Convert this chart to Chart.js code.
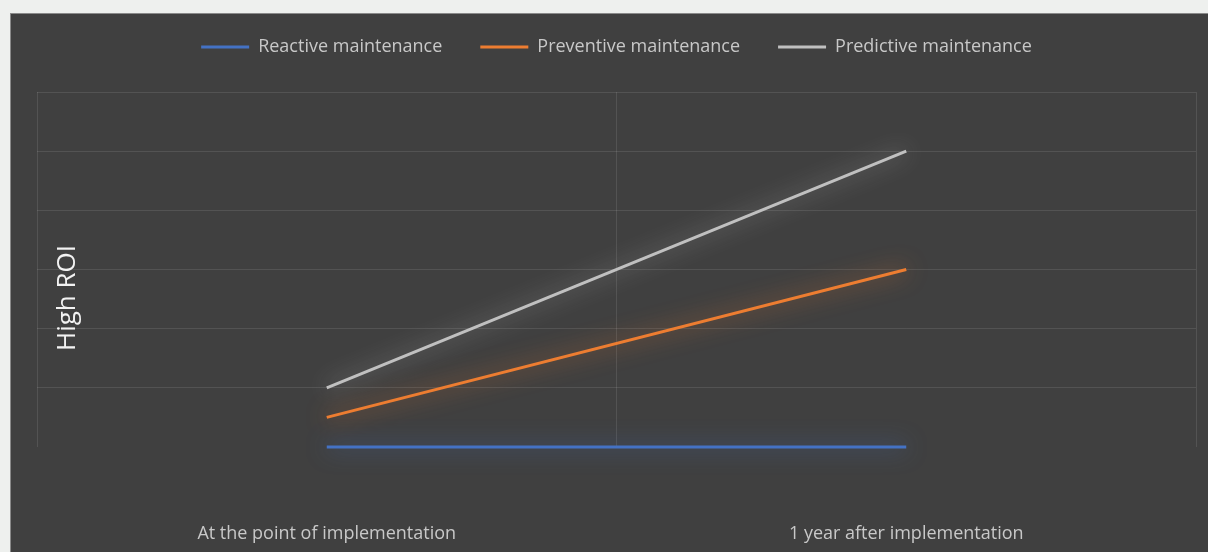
<!DOCTYPE html>
<html>
<head>
<meta charset="utf-8">
<script src="https://cdn.jsdelivr.net/npm/chart.js@4.4.1/dist/chart.umd.min.js"></script>
<style>
  html, body { margin: 0; padding: 0; background: #eef0ee; }
  #panel {
    position: absolute; left: 10px; top: 13px;
    width: 1198px; height: 539px;
    background: #404040;
    border-top: 1px solid #8a8a8a;
    border-left: 1px solid #8a8a8a;
    box-sizing: border-box;
  }
  #myChart { display: block; }
</style>
</head>
<body>
<div id="panel"><canvas id="myChart" width="1197" height="538"></canvas></div>
<script>
const categories = ['At the point of implementation', '1 year after implementation'];
const reactive = [0, 0];
const preventive = [0.5, 3];
const predictive = [1, 5];
const seriesNames = ['Reactive maintenance', 'Preventive maintenance', 'Predictive maintenance'];
const seriesColors = ['#4472c4', '#ed7d31', '#c0c0c0'];
const glowColors = ['rgba(68,114,196,0.9)', 'rgba(237,125,49,0.85)', 'rgba(225,225,225,0.6)'];

// soft glow around each line
const glow = {
  id: 'glow',
  beforeDatasetDraw(chart, args) {
    const c = chart.ctx;
    c.save();
    c.shadowColor = glowColors[args.index];
    c.shadowBlur = 22;
  },
  afterDatasetDraw(chart) {
    chart.ctx.restore();
  }
};

// extra space between legend and plot
const legendGap = {
  id: 'legendGap',
  beforeInit(chart) {
    const fit = chart.legend.fit;
    chart.legend.fit = function () {
      fit.bind(chart.legend)();
      this.height += 26;
    };
  }
};

// "High ROI" sits inside the plot area in the original
const roiLabel = {
  id: 'roiLabel',
  afterDraw(chart) {
    const c = chart.ctx;
    c.save();
    c.translate(57, 284);
    c.rotate(-Math.PI / 2);
    c.fillStyle = '#f2f2f2';
    c.font = '26px "Open Sans"';
    c.textAlign = 'center';
    c.textBaseline = 'middle';
    c.fillText('High ROI', 0, 0);
    c.restore();
  }
};

const gridColor = 'rgba(255,255,255,0.1)';

const ctx = document.getElementById('myChart');
new Chart(ctx, {
  type: 'line',
  data: {
    labels: categories,
    datasets: [
      { label: seriesNames[0], data: reactive },
      { label: seriesNames[1], data: preventive },
      { label: seriesNames[2], data: predictive }
    ].map((d, i) => Object.assign(d, {
      borderColor: seriesColors[i],
      backgroundColor: seriesColors[i],
      borderWidth: 3,
      pointRadius: 0,
      tension: 0,
      clip: false
    }))
  },
  options: {
    responsive: false,
    animation: false,
    layout: { padding: { left: 26, right: 12, top: -14, bottom: 0 } },
    plugins: {
      legend: {
        position: 'top',
        labels: {
          color: '#c8c8c8',
          font: { family: 'Open Sans', size: 18 },
          boxWidth: 48,
          boxHeight: 3,
          padding: 38,
          generateLabels(chart) {
            return Chart.defaults.plugins.legend.labels.generateLabels(chart)
              .map(l => Object.assign(l, { lineWidth: 0 }));
          }
        }
      },
      tooltip: { enabled: false }
    },
    scales: {
      x: {
        offset: true,
        grid: { offset: true, color: gridColor, drawTicks: false },
        border: { display: false },
        ticks: {
          color: '#c8c8c8',
          font: { family: 'Open Sans', size: 18 },
          padding: 76
        },
        afterFit(scale) { scale.height = 105; }
      },
      y: {
        min: 0,
        max: 6,
        ticks: { display: false, stepSize: 1 },
        grid: {
          color: c => (c.tick && c.tick.value === 0 ? 'rgba(0,0,0,0)' : gridColor),
          drawTicks: false
        },
        border: { display: false }
      }
    }
  },
  plugins: [glow, legendGap, roiLabel]
});
</script>
</body>
</html>
